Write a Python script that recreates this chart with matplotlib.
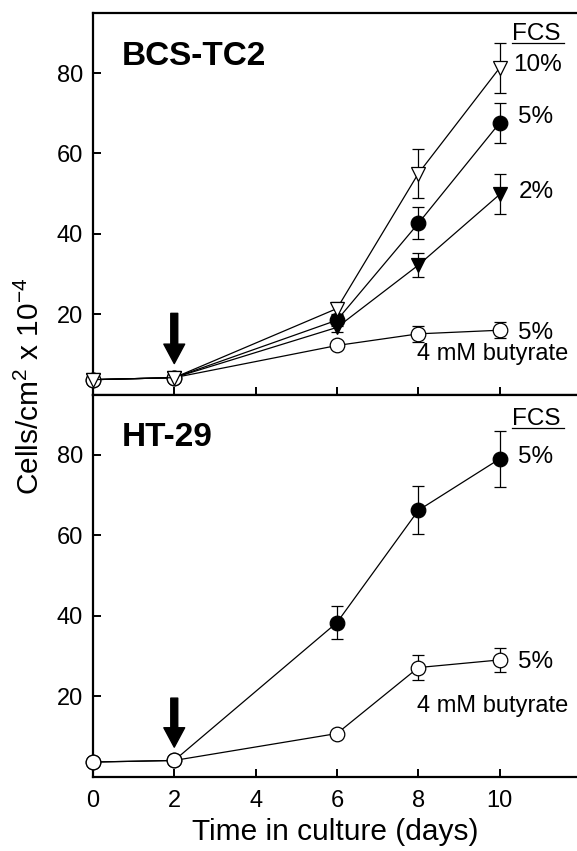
"""
Growth curves of BCS-TC2 and HT-29 cells with different FCS levels and butyrate
"""
import matplotlib
matplotlib.use('Agg')
import matplotlib.pyplot as plt

plt.rcParams['font.family'] = ['Liberation Sans', 'DejaVu Sans']
plt.rcParams['mathtext.fontset'] = 'custom'
plt.rcParams['mathtext.rm'] = 'Liberation Sans'
plt.rcParams['mathtext.it'] = 'Liberation Sans:italic'

# Time points (days)
days = [0, 2, 6, 8, 10]

# BCS-TC2 panel
bcs_fcs10 = [3.7, 4.2, 21.4, 55.0, 81.3]
bcs_fcs10_err = [0, 0, 1.6, 6.2, 6.3]
bcs_fcs5 = [3.7, 4.2, 18.5, 42.6, 67.6]
bcs_fcs5_err = [0, 0, 1.5, 4.0, 5.0]
bcs_fcs2 = [3.7, 4.2, 16.7, 32.2, 49.8]
bcs_fcs2_err = [0, 0, 1.2, 3.0, 5.0]
bcs_but = [3.7, 4.2, 12.2, 15.1, 16.0]
bcs_but_err = [0, 0, 0.8, 2.0, 2.0]

# HT-29 panel
ht_fcs5 = [3.6, 4.0, 38.3, 66.2, 79.0]
ht_fcs5_err = [0, 0, 4.0, 6.0, 7.0]
ht_but = [3.6, 4.0, 10.7, 27.1, 29.0]
ht_but_err = [0, 0, 0.5, 3.0, 3.0]

y_ticks = [20, 40, 60, 80]
x_ticks = [0, 2, 4, 6, 8, 10]

fig = plt.figure(figsize=(5.77, 8.51), dpi=100)
ax_top = fig.add_axes([0.161, 0.5364, 0.839, 0.4486])
ax_bot = fig.add_axes([0.161, 0.0875, 0.839, 0.4489], sharex=ax_top)

def style_panel(ax):
    ax.set_xlim(0, 11.9)
    ax.set_ylim(0, 95)
    ax.set_yticks(y_ticks)
    ax.set_xticks(x_ticks)
    ax.spines['right'].set_visible(False)
    for side in ['top', 'left', 'bottom']:
        ax.spines[side].set_linewidth(1.6)
    ax.tick_params(direction='in', length=6, width=1.4, labelsize=17, pad=7)

def series(ax, y, err, marker, filled):
    ax.errorbar(days, y, yerr=err, color='black', lw=0.9, elinewidth=0.9,
                capsize=4, capthick=0.9, marker=marker, ms=10.5,
                mfc='black' if filled else 'white', mec='black', mew=0.9,
                zorder=3, clip_on=False)

def label(ax, x, y, s, size=17.5, ha='left'):
    ax.text(x, y, s, fontsize=size, va='baseline', ha=ha)

# top panel
style_panel(ax_top)
series(ax_top, bcs_fcs5, bcs_fcs5_err, 'o', True)
series(ax_top, bcs_fcs2, bcs_fcs2_err, 'v', True)
series(ax_top, bcs_but, bcs_but_err, 'o', False)
series(ax_top, bcs_fcs10, bcs_fcs10_err, 'v', False)
ax_top.tick_params(axis='x', labelbottom=False)
ax_top.text(0.72, 84, 'BCS-TC2', fontsize=24, fontweight='bold', va='center')
ax_top.annotate('', xy=(2, 7.7), xytext=(2, 20.2),
                arrowprops=dict(width=5, headwidth=15, headlength=14,
                                facecolor='black', edgecolor='black'))
label(ax_top, 10.31, 88.3, 'FCS')
ax_top.plot([10.29, 11.59], [87.4, 87.4], color='black', lw=0.9)
label(ax_top, 10.32, 80.4, '10%')
label(ax_top, 10.46, 67.5, '5%')
label(ax_top, 10.46, 48.8, '2%')
label(ax_top, 10.46, 13.9, '5%')
label(ax_top, 11.69, 8.5, '4 mM butyrate', size=17, ha='right')

# bottom panel
style_panel(ax_bot)
series(ax_bot, ht_fcs5, ht_fcs5_err, 'o', True)
series(ax_bot, ht_but, ht_but_err, 'o', False)
ax_bot.text(0.72, 84.4, 'HT-29', fontsize=24, fontweight='bold', va='center')
ax_bot.annotate('', xy=(2, 7.3), xytext=(2, 19.5),
                arrowprops=dict(width=5, headwidth=15, headlength=14,
                                facecolor='black', edgecolor='black'))
label(ax_bot, 10.31, 87.5, 'FCS')
ax_bot.plot([10.29, 11.59], [86.6, 86.6], color='black', lw=0.9)
label(ax_bot, 10.46, 78.0, '5%')
label(ax_bot, 10.46, 27.1, '5%')
label(ax_bot, 11.69, 16.1, '4 mM butyrate', size=17, ha='right')
ax_bot.tick_params(axis='x', pad=10)
ax_bot.set_xlabel('Time in culture (days)', fontsize=21.5, labelpad=4)

fig.text(0.052, 0.546, 'Cells/cm$^2$ x 10$^{-4}$', fontsize=21.5, rotation=90,
         ha='center', va='center')

fig.savefig('out.png', dpi=100)
